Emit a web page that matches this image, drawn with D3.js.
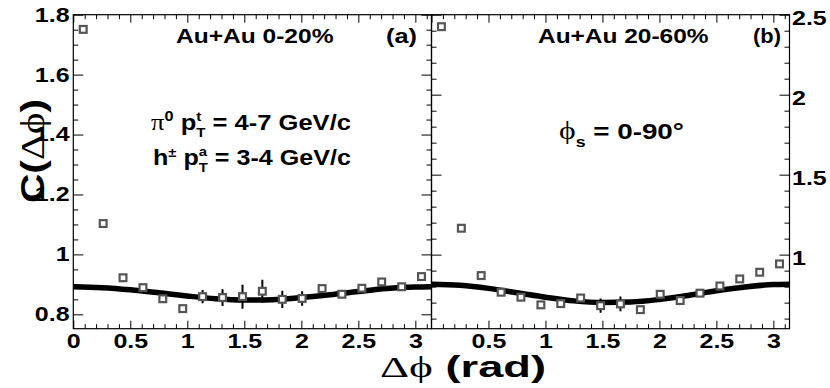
<!DOCTYPE html>
<html><head><meta charset="utf-8">
<script src="https://cdn.jsdelivr.net/npm/d3@7"></script>
<style>
html,body{margin:0;padding:0;background:#fff;}
svg{display:block;}
text{font-family:"Liberation Sans",Arial,Helvetica,sans-serif;font-weight:bold;fill:#000;}
</style></head>
<body><svg id="c" width="830" height="388"></svg>
<script>
// ---------------- data ----------------
const dphi = [0.087, 0.262, 0.436, 0.611, 0.785, 0.960, 1.134, 1.309, 1.484, 1.658, 1.833, 2.007, 2.182, 2.356, 2.531, 2.705, 2.880, 3.054];
const cCentral = [1.751, 1.103, 0.922, 0.889, 0.852, 0.819, 0.859, 0.856, 0.859, 0.877, 0.850, 0.853, 0.886, 0.867, 0.887, 0.908, 0.892, 0.926];
const eCentral = [0.010, 0.010, 0.010, 0.010, 0.010, 0.010, 0.022, 0.028, 0.040, 0.038, 0.029, 0.024, 0.010, 0.010, 0.010, 0.010, 0.010, 0.010];
const cMid = [2.425, 1.165, 0.869, 0.765, 0.734, 0.686, 0.694, 0.729, 0.681, 0.692, 0.656, 0.752, 0.713, 0.759, 0.804, 0.848, 0.890, 0.942];
const eMid = [0.015, 0.015, 0.015, 0.015, 0.015, 0.015, 0.015, 0.015, 0.045, 0.046, 0.015, 0.015, 0.015, 0.015, 0.015, 0.015, 0.015, 0.015];
const curveX = [0, 0.25, 0.5, 0.75, 1.0, 1.25, 1.5, 1.75, 2.0, 2.25, 2.5, 2.75, 3.0, 3.1416];
const curveCentral = [0.892, 0.889, 0.882, 0.872, 0.861, 0.852, 0.848, 0.849, 0.856, 0.865, 0.876, 0.886, 0.891, 0.892];
const curveMid = [0.815, 0.808, 0.789, 0.762, 0.734, 0.711, 0.701, 0.704, 0.720, 0.745, 0.774, 0.798, 0.813, 0.815];
const xTicksLeft = [0, 0.5, 1, 1.5, 2, 2.5, 3];
const xTicksRight = [0.5, 1, 1.5, 2, 2.5, 3];
const yTicksLeft = [0.8, 1.0, 1.2, 1.4, 1.6, 1.8];
const yTickLabelsLeft = ["0.8", "1", "1.2", "1.4", "1.6", "1.8"];
const yTicksRight = [1.0, 1.5, 2.0, 2.5];
const yTickLabelsRight = ["1", "1.5", "2", "2.5"];
const xTickLabels = {0:"0",0.5:"0.5",1:"1",1.5:"1.5",2:"2",2.5:"2.5",3:"3"};

// ---------------- layout ----------------
const SX = 1.25;          // horizontal stretch of glyphs in the original
const yTop = 14.7, yBot = 328.7;
const lx0 = 73.3, mid = 431.5, rx1 = 789.5;
const svg = d3.select("#c");

const xL = d3.scaleLinear().domain([0, Math.PI]).range([lx0, mid]);
const xR = d3.scaleLinear().domain([0, Math.PI]).range([mid, rx1]);
const yL = d3.scaleLinear().domain([0.752, 1.8]).range([yBot, yTop]);
const yR = d3.scaleLinear().domain([0.537, 2.5]).range([yBot, yTop]);

function clean(g){ g.select(".domain").remove(); g.selectAll("line").attr("stroke","#000").attr("stroke-width",1); }
function styleLabels(g, dy){
  g.selectAll("text").attr("font-size",20).attr("font-family",'"Liberation Sans",Arial,sans-serif').attr("font-weight","bold")
   .attr("transform",`scale(${SX},1)`);
  if (dy!==undefined) g.selectAll("text").attr("dy", dy);
}
const minorX = d3.range(0, 3.15, 0.1).filter(v => Math.abs(v*2 - Math.round(v*2)) > 1e-6);

function drawXAxes(x, ticks){
  const gb = svg.append("g").attr("transform",`translate(0,${yBot})`)
    .call(d3.axisBottom(x).tickValues(ticks).tickSize(-8).tickPadding(5.5).tickFormat(d => xTickLabels[d]));
  clean(gb); styleLabels(gb);
  const gbm = svg.append("g").attr("transform",`translate(0,${yBot})`)
    .call(d3.axisBottom(x).tickValues(minorX).tickSize(-4.5).tickFormat(""));
  clean(gbm);
  const gt = svg.append("g").attr("transform",`translate(0,${yTop})`)
    .call(d3.axisTop(x).tickValues([0,0.5,1,1.5,2,2.5,3]).tickSize(-8).tickFormat(""));
  clean(gt);
  const gtm = svg.append("g").attr("transform",`translate(0,${yTop})`)
    .call(d3.axisTop(x).tickValues(minorX).tickSize(-4.5).tickFormat(""));
  clean(gtm);
}
drawXAxes(xL, xTicksLeft);
drawXAxes(xR, xTicksRight);

const minorYL = d3.range(0.8, 1.801, 0.05).filter(v => Math.abs(v*5 - Math.round(v*5)) > 1e-6);
let g = svg.append("g").attr("transform",`translate(${lx0},0)`)
  .call(d3.axisLeft(yL).tickValues(yTicksLeft).tickSize(-10).tickPadding(3).tickFormat((d,i)=>yTickLabelsLeft[i]));
clean(g); styleLabels(g);
g = svg.append("g").attr("transform",`translate(${lx0},0)`).call(d3.axisLeft(yL).tickValues(minorYL).tickSize(-5).tickFormat(""));
clean(g);
g = svg.append("g").attr("transform",`translate(${mid},0)`).call(d3.axisRight(yL).tickValues(yTicksLeft).tickSize(-10).tickFormat(""));
clean(g);
g = svg.append("g").attr("transform",`translate(${mid},0)`).call(d3.axisRight(yL).tickValues(minorYL).tickSize(-5).tickFormat(""));
clean(g);
const minorYR = d3.range(0.6, 2.501, 0.1).filter(v => Math.abs(v*2 - Math.round(v*2)) > 1e-6);
g = svg.append("g").attr("transform",`translate(${rx1},0)`)
  .call(d3.axisRight(yR).tickValues(yTicksRight).tickSize(-10).tickPadding(2).tickFormat((d,i)=>yTickLabelsRight[i]));
clean(g); styleLabels(g, "0.5em");
g = svg.append("g").attr("transform",`translate(${rx1},0)`).call(d3.axisRight(yR).tickValues(minorYR).tickSize(-5).tickFormat(""));
clean(g);
g = svg.append("g").attr("transform",`translate(${mid},0)`).call(d3.axisLeft(yR).tickValues(yTicksRight).tickSize(-10).tickFormat(""));
clean(g);
g = svg.append("g").attr("transform",`translate(${mid},0)`).call(d3.axisLeft(yR).tickValues(minorYR).tickSize(-5).tickFormat(""));
clean(g);

[[lx0, mid],[mid, rx1]].forEach(([a,b]) => {
  svg.append("rect").attr("x",a).attr("y",yTop).attr("width",b-a).attr("height",yBot-yTop)
    .attr("fill","none").attr("stroke","#000").attr("stroke-width",1.2);
});

function drawPanel(x, y, vals, errs, cy, clipId, x0, x1){
  svg.append("clipPath").attr("id",clipId).append("rect").attr("x",x0).attr("y",yTop).attr("width",x1-x0).attr("height",yBot-yTop);
  const pg = svg.append("g").attr("clip-path",`url(#${clipId})`);
  const line = d3.line().x((d,i)=>x(curveX[i])).y(d=>y(d)).curve(d3.curveMonotoneX);
  pg.append("path").datum(cy).attr("d",line).attr("fill","none").attr("stroke","#000").attr("stroke-width",5.5);
  pg.selectAll("line.err").data(vals).join("line").attr("class","err")
    .attr("x1",(d,i)=>x(dphi[i])).attr("x2",(d,i)=>x(dphi[i]))
    .attr("y1",(d,i)=>y(d-errs[i])).attr("y2",(d,i)=>y(d+errs[i]))
    .attr("stroke","#000").attr("stroke-width",2);
  const s = 6.8;
  pg.selectAll("rect.m").data(vals).join("rect").attr("class","m")
    .attr("x",(d,i)=>x(dphi[i])-s/2).attr("y",d=>y(d)-s/2).attr("width",s).attr("height",s)
    .attr("fill","#fff").attr("stroke","#555").attr("stroke-width",2.2);
}
drawPanel(xL, yL, cCentral, eCentral, curveCentral, "clipL", lx0, mid);
drawPanel(xR, yR, cMid, eMid, curveMid, "clipR", mid, rx1);

const SERIF = '"Liberation Serif","DejaVu Serif",serif';
function rich(pieces, base){
  const gg = svg.append("g");
  let cx = 0, prevX = 0, prevW = 0;
  pieces.forEach(p => {
    const t = gg.append("text").attr("y", p.dy||0).attr("font-size", p.size||base)
      .attr("xml:space","preserve").style("white-space","pre").text(p.t);
    if (p.serif) t.style("font-family",SERIF).style("font-weight","normal");
    const w = t.node().getComputedTextLength();
    if (p.stack){ t.attr("x", prevX); cx = prevX + Math.max(prevW, w); }
    else { t.attr("x", cx); prevX = cx; prevW = w; cx += w; }
  });
  return gg;
}
function placeH(gg, x0, x1, baseline){
  const bb = gg.node().getBBox();
  const s = (x1 - x0) / bb.width;
  gg.attr("transform", `translate(${x0 - bb.x*s},${baseline}) scale(${s},1)`);
}

placeH(rich([{t:"Au+Au 0-20%"}], 21), 176, 334, 42.5);
placeH(rich([{t:"(a)"}], 21), 386, 417, 42.5);
placeH(rich([{t:"Au+Au 20-60%"}], 21), 538, 709, 42.5);
placeH(rich([{t:"(b)"}], 21), 753, 781, 42.5);

placeH(rich([{t:"π", serif:true, size:23},{t:"0", size:14, dy:-9},{t:" p"},{t:"t", size:13, dy:-9},{t:"T", size:13, dy:7, stack:true},{t:" = 4-7 GeV/c"}], 22), 151, 351, 130);
placeH(rich([{t:"h"},{t:"±", size:13, dy:-8},{t:" p"},{t:"a", size:13, dy:-9},{t:"T", size:13, dy:7, stack:true},{t:" = 3-4 GeV/c"}], 22), 153, 351, 165);
placeH(rich([{t:"ϕ", serif:true, size:25},{t:"s", size:14, dy:8},{t:" = 0-90°"}], 22), 559, 684, 139);

placeH(rich([{t:"Δϕ", serif:true},{t:" (rad)"}], 29), 380, 546, 377);

(function(){
  const gg = rich([{t:"C("},{t:"Δϕ", serif:true},{t:")"}], 30);
  const bb = gg.node().getBBox();
  const s = 104 / bb.width;
  gg.attr("transform", `translate(44,${203 + bb.x*s}) rotate(-90) scale(${s},1.12)`);
})();
</script></body></html>
